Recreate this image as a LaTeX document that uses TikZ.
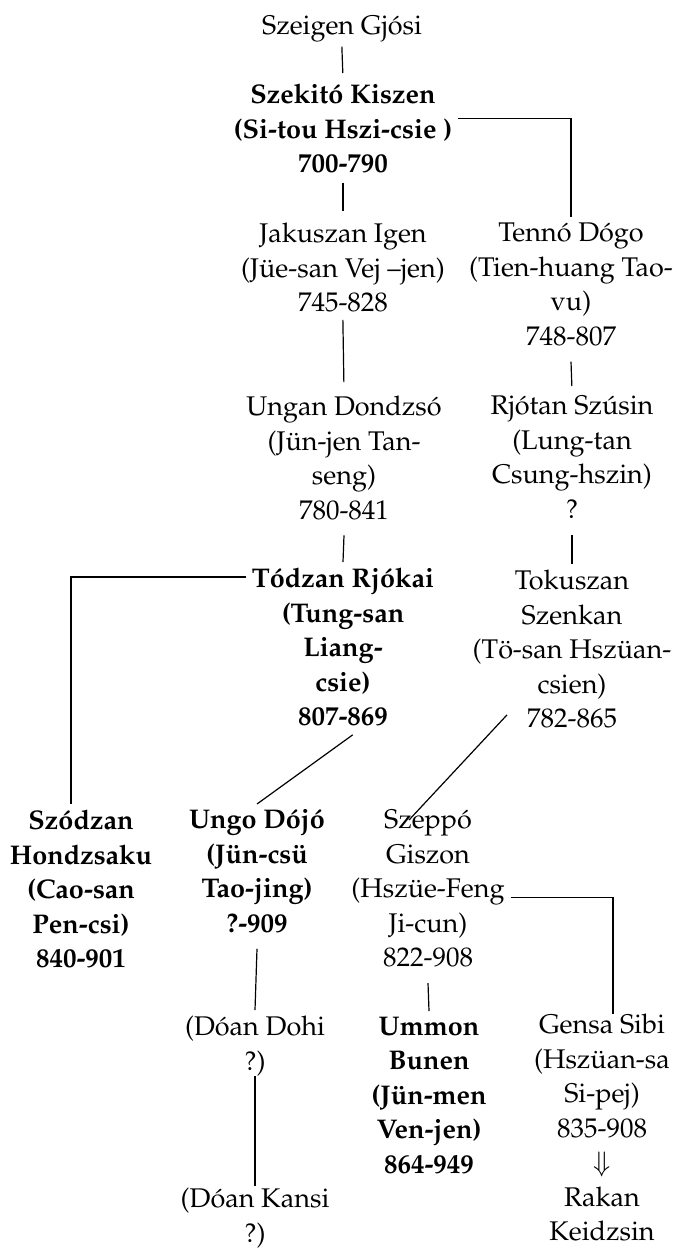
\documentclass[tikz,border=0pt]{standalone}
\usepackage[T1]{fontenc}
\usepackage{mathpazo}
\usepackage{tikz}

\begin{document}
\begin{tikzpicture}[x=0.5pt,y=-0.5pt,line width=0.6pt,
  every node/.style={align=center,anchor=north,inner sep=0pt,outer sep=3pt,
    font=\fontsize{13.5}{17.25}\selectfont,execute at begin node=\strut},
  b/.style={font=\fontsize{13.5}{17.25}\selectfont\bfseries}]
\useasboundingbox (0,0) rectangle (676,1248);
\node (1) at (342,4) {Szeigen Gjósi};
\node [b] (2) at (343,78) {Szekitó Kiszen\\(Si-tou Hszi-csie )\\700-790};
\node (3a) at (343,217) {Jakuszan Igen\\(Jüe-san Vej --jen)\\745-828};
\node (3b) at (571,217) {Tennó Dógo\\(Tien-huang Tao-\\vu)\\748-807};
\node (4a) at (344,390) {Ungan Dondzsó\\(Jün-jen Tan-\\seng)\\780-841};
\node (4b) at (572,390) {Rjótan Szúsin\\(Lung-tan\\Csung-hszin)\\?};
\node [b] (5a) at (343,562) {Tódzan Rjókai\\(Tung-san\\Liang-\\csie)\\807-869};
\node (5b) at (572,564) {Tokuszan\\Szenkan\\(Tö-san Hszüan-\\csien)\\782-865};
\node [b] (6a) at (81,804) {Szódzan\\Hondzsaku\\(Cao-san\\Pen-csi)\\840-901};
\node [b] (6b) at (257,804) {Ungo Dójó\\(Jün-csü\\Tao-jing)\\?-909};
\node (6c) at (428,804) {Szeppó\\Giszon\\(Hszüe-Feng\\Ji-cun)\\822-908};
\node (7a) at (255,1010) {(Dóan Dohi\\?)};
\node [b] (7b) at (429,1011) {Ummon\\Bunen\\(Jün-men\\Ven-jen)\\864-949};
\node (7c) at (602,1008) {Gensa Sibi\\(Hszüan-sa\\Si-pej)\\835-908\\$\Downarrow$\\Rakan\\Keidzsin};
\node (8a) at (255,1182) {(Dóan Kansi\\?)};
\path[draw] (1.south) edge [shorten <=-2pt,shorten >=2.5pt] (2.north)
          (2.south) edge [shorten <=-3pt,shorten >=3pt] (3a.north)
          (3a.south) edge [shorten <=-4pt,shorten >=4pt] (4a.north)
          (3b.south) edge [shorten >=2pt] (4b.north)
          (4a.south) edge (5a.north)
          (4b.south) edge (5b.north)
          (5a.south) edge [shorten <=-6pt] (6b.north)
          ([xshift=-32.5pt,yshift=14.5pt]5b.south) edge ([xshift=-9.5pt,yshift=-8pt]6c.north)
          (6b.south) edge (7a.north)
          (6c.south) edge (7b.north)
          (7a.south) edge [shorten <=-5pt,shorten >=-2pt] (8a.north);
\draw ([yshift=7.5pt]2.east) -| (3b.north);
\draw ([yshift=-7.5pt]5a.north west) -| ([xshift=-5pt]6a.north);
\draw [shorten >=-3pt] ([yshift=-2pt]6c.east) -| ([xshift=5.5pt]7c.north);
\end{tikzpicture}
\end{document}
